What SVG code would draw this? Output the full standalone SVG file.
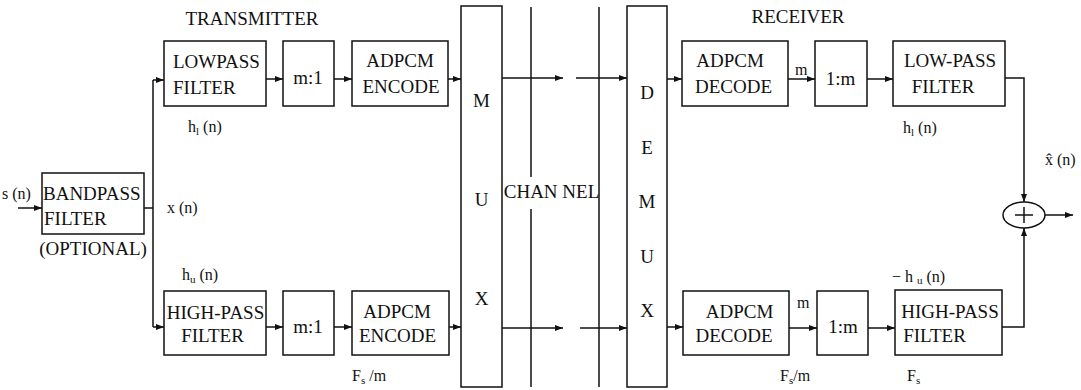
<svg xmlns="http://www.w3.org/2000/svg" width="1081" height="390" viewBox="0 0 1081 390">
  <style>
    .box { fill: #fff; stroke: #111; stroke-width: 1.5; }
    .wire { fill: none; stroke: #111; stroke-width: 1.5; }
    .t { font-family: "Liberation Serif", "Times New Roman", serif; font-size: 19px; fill: #111; }
    .c { text-anchor: middle; }
    .lb { font-family: "Liberation Serif", "Times New Roman", serif; font-size: 16px; fill: #111; }
    .sub { font-size: 11px; }
  </style>
  <defs>
    <marker id="arrow" markerUnits="userSpaceOnUse" markerWidth="9" markerHeight="7" refX="8" refY="3" orient="auto">
      <path d="M0,0 L8,3 L0,6 z" fill="#111"/>
    </marker>
  </defs>
  <rect width="1081" height="390" fill="#fff"/>

  <!-- section titles -->
  <text class="t c" x="252" y="25">TRANSMITTER</text>
  <text class="t c" x="798" y="23">RECEIVER</text>

  <!-- signal labels -->
  <text class="lb" x="2" y="199">s (n)</text>
  <text class="lb" x="167" y="213">x (n)</text>
  <text class="lb" x="188" y="132">h<tspan class="sub" dy="3">l</tspan><tspan dy="-3"> (n)</tspan></text>
  <text class="lb" x="182" y="280">h<tspan class="sub" dy="3">u</tspan><tspan dy="-3"> (n)</tspan></text>
  <text class="lb" x="352" y="381">F<tspan class="sub" dy="3">s</tspan><tspan dy="-3"> /m</tspan></text>
  <text class="lb" x="795" y="75" font-size="15">m</text>
  <text class="lb" x="797" y="308" font-size="15">m</text>
  <text class="lb" x="903" y="133">h<tspan class="sub" dy="3">l</tspan><tspan dy="-3"> (n)</tspan></text>
  <text class="lb" x="1045" y="165">x̂ (n)</text>
  <text class="lb" x="892" y="282">− h <tspan class="sub" dy="2">u</tspan><tspan dy="-2"> (n)</tspan></text>
  <text class="lb" x="780" y="381">F<tspan class="sub" dy="3">s</tspan><tspan dy="-3">/m</tspan></text>
  <text class="lb" x="907" y="381">F<tspan class="sub" dy="3">s</tspan></text>

  <!-- transmitter -->
  <g id="bandpass">
    <rect class="box" x="42" y="173" width="102" height="61"/>
    <text class="t" x="43" y="200">BANDPASS</text>
    <text class="t" x="44" y="225">FILTER</text>
    <text class="t c" x="93" y="255">(OPTIONAL)</text>
  </g>
  <g id="lowpass-tx">
    <rect class="box" x="164" y="41" width="102" height="65"/>
    <text class="t" x="173" y="68">LOWPASS</text>
    <text class="t" x="173" y="94">FILTER</text>
  </g>
  <g id="decim-top">
    <rect class="box" x="283" y="41" width="51" height="65"/>
    <text class="t c" x="308" y="84">m:1</text>
  </g>
  <g id="encode-top">
    <rect class="box" x="352" y="41" width="96" height="65"/>
    <text class="t c" x="400" y="67">ADPCM</text>
    <text class="t c" x="401" y="93">ENCODE</text>
  </g>
  <g id="highpass-tx">
    <rect class="box" x="164" y="291" width="102" height="64"/>
    <text class="t c" x="215.5" y="319">HIGH-PASS</text>
    <text class="t c" x="212.5" y="342">FILTER</text>
  </g>
  <g id="decim-bottom">
    <rect class="box" x="283" y="291" width="51" height="64"/>
    <text class="t c" x="308" y="333">m:1</text>
  </g>
  <g id="encode-bottom">
    <rect class="box" x="352" y="291" width="97" height="64"/>
    <text class="t c" x="397" y="318">ADPCM</text>
    <text class="t c" x="397.5" y="342">ENCODE</text>
  </g>
  <g id="mux">
    <rect class="box" x="461" y="6" width="41" height="381"/>
    <text class="t c" x="481.5" y="107">M</text>
    <text class="t c" x="481.5" y="206">U</text>
    <text class="t c" x="481.5" y="305">X</text>
  </g>

  <!-- channel -->
  <g id="channel">
    <line class="wire" x1="531" y1="7" x2="531" y2="177"/>
    <line class="wire" x1="531" y1="209" x2="531" y2="387"/>
    <line class="wire" x1="599" y1="7" x2="599" y2="387"/>
    <text class="t c" x="551.5" y="198">CHAN NEL</text>
  </g>

  <!-- receiver -->
  <g id="demux">
    <rect class="box" x="627" y="6" width="40" height="381"/>
    <text class="t c" x="647" y="99">D</text>
    <text class="t c" x="647" y="154">E</text>
    <text class="t c" x="647" y="208">M</text>
    <text class="t c" x="647" y="263">U</text>
    <text class="t c" x="647" y="317">X</text>
  </g>
  <g id="decode-top">
    <rect class="box" x="682" y="41" width="106" height="65"/>
    <text class="t c" x="730" y="67">ADPCM</text>
    <text class="t c" x="733.5" y="93">DECODE</text>
  </g>
  <g id="interp-top">
    <rect class="box" x="815" y="41" width="52" height="65"/>
    <text class="t c" x="840.5" y="85">1:m</text>
  </g>
  <g id="lowpass-rx">
    <rect class="box" x="893" y="41" width="112" height="65"/>
    <text class="t c" x="950" y="67">LOW-PASS</text>
    <text class="t c" x="943" y="93">FILTER</text>
  </g>
  <g id="decode-bottom">
    <rect class="box" x="683" y="291" width="106" height="64"/>
    <text class="t c" x="739.5" y="318">ADPCM</text>
    <text class="t c" x="734" y="342">DECODE</text>
  </g>
  <g id="interp-bottom">
    <rect class="box" x="817" y="291" width="51" height="64"/>
    <text class="t c" x="843" y="333">1:m</text>
  </g>
  <g id="highpass-rx">
    <rect class="box" x="895" y="290" width="107" height="65"/>
    <text class="t c" x="950" y="318">HIGH-PASS</text>
    <text class="t c" x="934.5" y="342">FILTER</text>
  </g>
  <g id="adder">
    <ellipse class="box" cx="1024" cy="215" rx="21" ry="13"/>
    <line class="wire" x1="1015" y1="215" x2="1033" y2="215"/>
    <line class="wire" x1="1024" y1="207" x2="1024" y2="223"/>
  </g>

  <!-- connectors -->
  <g id="connectors" class="wire">
    <line x1="18" y1="208" x2="42" y2="208" marker-end="url(#arrow)"/>
    <polyline points="144,208 153,208"/>
    <line x1="153" y1="80" x2="153" y2="327"/>
    <line x1="153" y1="80" x2="164" y2="80" marker-end="url(#arrow)"/>
    <line x1="153" y1="327" x2="164" y2="327" marker-end="url(#arrow)"/>
    <line x1="266" y1="79" x2="283" y2="79" marker-end="url(#arrow)"/>
    <line x1="334" y1="79" x2="352" y2="79" marker-end="url(#arrow)"/>
    <line x1="448" y1="79" x2="461" y2="79" marker-end="url(#arrow)"/>
    <line x1="266" y1="327" x2="283" y2="327" marker-end="url(#arrow)"/>
    <line x1="334" y1="327" x2="352" y2="327" marker-end="url(#arrow)"/>
    <line x1="449" y1="327" x2="461" y2="327" marker-end="url(#arrow)"/>
    <line x1="502" y1="78" x2="563" y2="78" marker-end="url(#arrow)"/>
    <line x1="576" y1="78" x2="627" y2="78" marker-end="url(#arrow)"/>
    <line x1="502" y1="328" x2="563" y2="328" marker-end="url(#arrow)"/>
    <line x1="580" y1="328" x2="627" y2="328" marker-end="url(#arrow)"/>
    <line x1="667" y1="79" x2="682" y2="79" marker-end="url(#arrow)"/>
    <line x1="667" y1="327" x2="683" y2="327" marker-end="url(#arrow)"/>
    <line x1="788" y1="79" x2="815" y2="79" marker-end="url(#arrow)"/>
    <line x1="867" y1="79" x2="893" y2="79" marker-end="url(#arrow)"/>
    <line x1="789" y1="328" x2="817" y2="328" marker-end="url(#arrow)"/>
    <line x1="868" y1="328" x2="895" y2="328" marker-end="url(#arrow)"/>
    <polyline points="1005,78 1024,78 1024,202" marker-end="url(#arrow)"/>
    <polyline points="1002,327 1024,327 1024,228" marker-end="url(#arrow)"/>
    <line x1="1045" y1="215" x2="1073" y2="215" marker-end="url(#arrow)"/>
  </g>
</svg>
